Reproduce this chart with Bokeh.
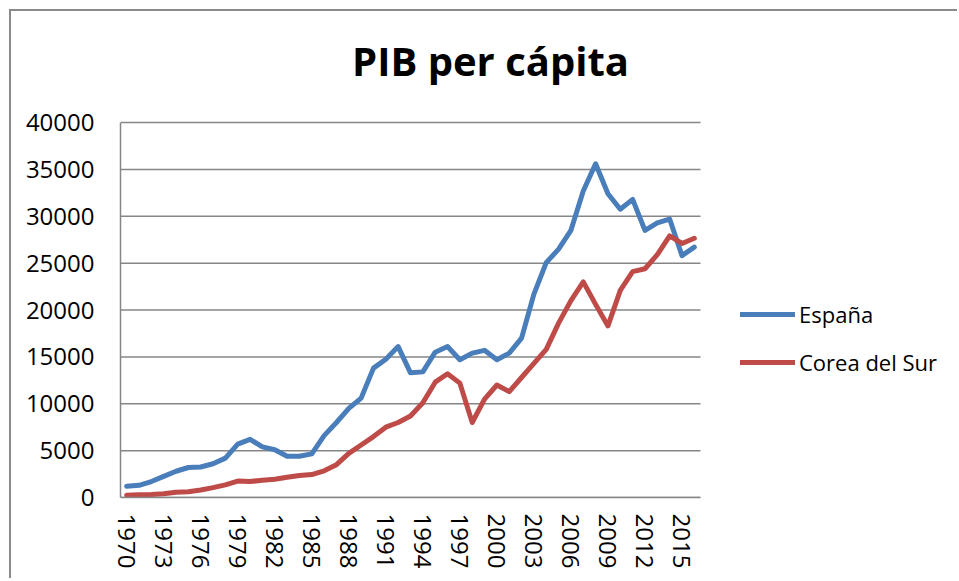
from bokeh.plotting import figure
from bokeh.models import Range1d, FixedTicker, Legend, LegendItem, Label
from bokeh.embed import file_html
from bokeh.resources import INLINE

years = [1970, 1971, 1972, 1973, 1974, 1975, 1976, 1977, 1978, 1979,
         1980, 1981, 1982, 1983, 1984, 1985, 1986, 1987, 1988, 1989,
         1990, 1991, 1992, 1993, 1994, 1995, 1996, 1997, 1998, 1999,
         2000, 2001, 2002, 2003, 2004, 2005, 2006, 2007, 2008, 2009,
         2010, 2011, 2012, 2013, 2014, 2015, 2016]

espana = [1200, 1300, 1700, 2250, 2800, 3200, 3250, 3600, 4200, 5700,
          6200, 5400, 5100, 4400, 4400, 4650, 6600, 8000, 9500, 10600,
          13800, 14750, 16100, 13300, 13400, 15500, 16100, 14700, 15400, 15700,
          14700, 15400, 17000, 21700, 25050, 26500, 28500, 32700, 35600, 32400,
          30750, 31800, 28500, 29300, 29700, 25800, 26700]

corea = [250, 300, 330, 400, 550, 620, 800, 1050, 1350, 1750,
         1700, 1850, 1950, 2150, 2350, 2450, 2850, 3500, 4700, 5600,
         6500, 7500, 8000, 8700, 10100, 12300, 13200, 12200, 8000, 10500,
         12000, 11300, 12800, 14300, 15800, 18600, 21000, 23000, 20600, 18300,
         22100, 24100, 24400, 25900, 27900, 27100, 27650]

x_ticks = [1970, 1973, 1976, 1979, 1982, 1985, 1988, 1991, 1994, 1997,
           2000, 2003, 2006, 2009, 2012, 2015]
y_ticks = [0, 5000, 10000, 15000, 20000, 25000, 30000, 35000, 40000]

series_names = ["España", "Corea del Sur"]
title_text = "PIB per cápita"

GRID = "#868686"
FONT = "Open Sans"

# The plot area spans 1969.5..2016.5 (580 px) and 0..40000 (375 px).
# The frame is extended right and up so that legend and title, which sit
# beside and above the plot area, are not clipped.
X0, X1 = 1969.5, 2016.5
Y0, Y1 = 0, 40000
FRAME_W, PLOT_W = 830, 580
FRAME_H, PLOT_H = 486, 375
x_end = X0 + (X1 - X0) * FRAME_W / PLOT_W
y_end = Y0 + (Y1 - Y0) * FRAME_H / PLOT_H

p = figure(width=948, height=569, output_backend="svg", toolbar_location=None,
           x_range=Range1d(X0, x_end), y_range=Range1d(Y0, y_end),
           min_border_left=109, min_border_top=0,
           min_border_right=9, min_border_bottom=83,
           background_fill_color="white", border_fill_color="white")
p.styles = {"margin-left": "9px", "margin-top": "9px",
            "border-left": "2px solid #8a8a8a", "border-top": "2px solid #8a8a8a"}
p.outline_line_color = None

# horizontal gridlines limited to the plot area
p.xgrid.visible = False
p.ygrid.visible = False
p.segment(x0=[X0] * len(y_ticks), x1=[X1] * len(y_ticks), y0=y_ticks, y1=y_ticks,
          line_color=GRID, line_width=1.5)

r1 = p.line(years, espana, line_color="#4A7EBB", line_width=5,
            line_join="round", line_cap="round")
r2 = p.line(years, corea, line_color="#BE4B48", line_width=5,
            line_join="round", line_cap="round")

for ax in (p.xaxis[0], p.yaxis[0]):
    ax.axis_line_color = GRID
    ax.axis_line_width = 1.5
    ax.major_tick_line_color = None
    ax.minor_tick_line_color = None
    ax.major_tick_out = 0
    ax.major_tick_in = 0
    ax.major_label_text_font = FONT
    ax.major_label_text_font_size = "24px"
    ax.major_label_text_color = "black"

p.yaxis.ticker = FixedTicker(ticks=y_ticks)
p.yaxis.bounds = (Y0, Y1)
p.yaxis.major_label_standoff = 26
p.xaxis.ticker = FixedTicker(ticks=x_ticks)
p.xaxis.bounds = (X0, X1)
p.xaxis.major_label_orientation = "vertical"
p.xaxis.major_label_standoff = 16

title = Label(x=370, y=437, x_units="screen", y_units="screen",
              text=title_text, text_align="center", text_baseline="middle",
              text_font=FONT, text_font_style="bold", text_font_size="40px",
              text_color="black")
p.add_layout(title)

legend = Legend(items=[LegendItem(label=series_names[0], renderers=[r1]),
                       LegendItem(label=series_names[1], renderers=[r2])],
                location=(620, 120), orientation="vertical",
                padding=0, margin=0, spacing=18,
                glyph_width=55, glyph_height=26, label_height=26,
                label_standoff=4, border_line_color=None,
                background_fill_alpha=0,
                label_text_font=FONT, label_text_font_size="22px",
                label_text_color="black")
p.add_layout(legend)

open("out.html", "w").write(file_html(p, INLINE))
